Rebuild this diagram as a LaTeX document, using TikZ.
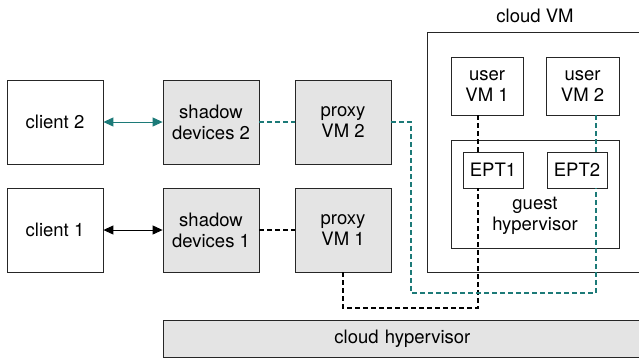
\documentclass[tikz,border=0pt]{standalone}
\usepackage{fontspec}
\setmainfont{TeX Gyre Heros}
\usetikzlibrary{arrows.meta}
\definecolor{tealc}{HTML}{1C7A78}
\definecolor{greyf}{HTML}{E4E4E4}
\begin{document}
\begin{tikzpicture}[x=1pt,y=-1pt,
  box/.style={draw=black!85, line width=0.8pt, fill=white, inner sep=0pt, align=center,
    font=\fontsize{18.5}{21}\selectfont},
  gbox/.style={box, fill=greyf},
  lbl/.style={inner sep=0pt, align=center, font=\fontsize{18.5}{21}\selectfont},
  dsh/.style={line width=1.6pt, dash pattern=on 5pt off 3pt},
  arr/.style={line width=0.9pt, {Triangle[length=10pt,width=9pt]}-{Triangle[length=10pt,width=9pt]}}
]
\useasboundingbox (0,0) rectangle (639,360);
% left column
\node[box, minimum width=96pt, minimum height=84pt] (c2) at (55,122) {client 2};
\node[box, minimum width=96pt, minimum height=84pt] (c1) at (55,230) {client 1};
\node[gbox, minimum width=96pt, minimum height=84pt] (s2) at (211,122) {shadow\\devices 2};
\node[gbox, minimum width=96pt, minimum height=84pt] (s1) at (211,230) {shadow\\devices 1};
\node[gbox, minimum width=96pt, minimum height=84pt] (p2) at (343,122) {proxy\\VM 2};
\node[gbox, minimum width=96pt, minimum height=84pt] (p1) at (343,230) {proxy\\VM 1};
% cloud VM
\draw[line width=0.8pt, draw=black!85] (642,32) -- (427,32) -- (427,272) -- (642,272);
\node[lbl] (cvm) at (535,16) {cloud VM};
\node[box, minimum width=72pt, minimum height=58pt] (u1) at (487,86) {user\\VM 1};
\node[box, minimum width=73pt, minimum height=58pt] (u2) at (582.5,86) {user\\VM 2};
\node[box, minimum width=168pt, minimum height=108pt] (gh) at (535,194) {};
\node[lbl] (ghl) at (535,216) {guest\\hypervisor};
\node[box, minimum width=60pt, minimum height=36pt] (e1) at (493,170) {EPT1};
\node[box, minimum width=60pt, minimum height=36pt] (e2) at (577,170) {EPT2};
% cloud hypervisor
\node[gbox, anchor=west, minimum width=480pt, minimum height=37pt, text width=476pt] (ch) at (163,338.5) {\hspace*{-2pt}cloud hypervisor};
% connectors
\coordinate (bx) at (478,0);
\coordinate (tx) at (596,0);
\coordinate (b1) at (478,308);
\coordinate (t1) at (411,293);
\draw[arr, tealc] (c2.east) -- (s2.west);
\draw[arr, black] (c1.east) -- (s1.west);
\draw[dsh, tealc] (s2.east) -- (p2.west);
\draw[dsh, black] (s1.east) -- (p1.west);
\draw[dsh, black] (u1.south -| bx) -- (e1.north -| bx);
\draw[dsh, tealc] (u2.south -| tx) -- (e2.north -| tx);
\draw[dsh, black] (p1.south) |- (b1) -- (e1.south -| bx);
\draw[dsh, tealc] (p2.east) -| (t1) -- (t1 -| tx) -- (e2.south -| tx);
\end{tikzpicture}
\end{document}
